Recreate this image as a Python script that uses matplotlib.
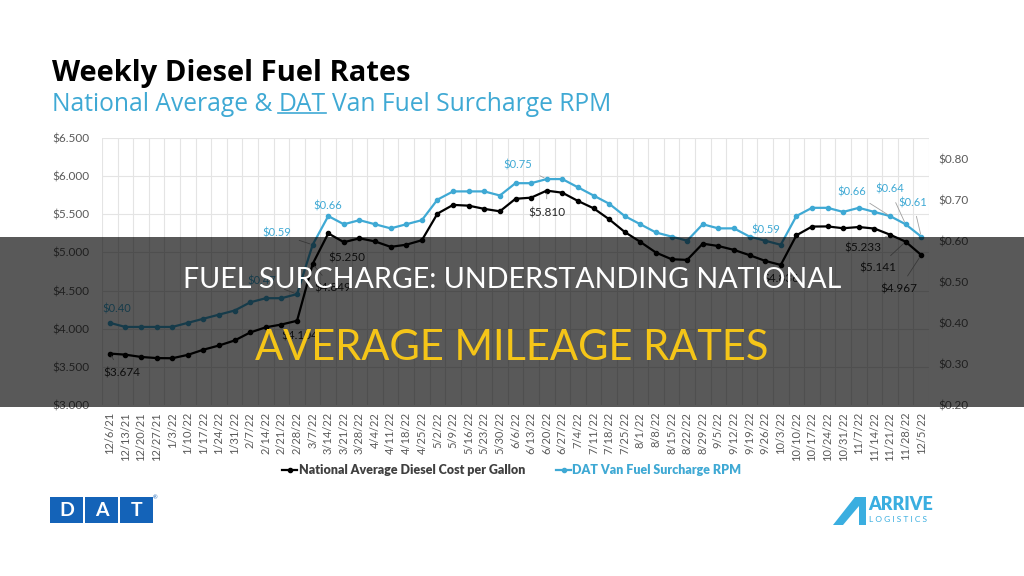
import numpy as np
import matplotlib.pyplot as plt
from matplotlib.patches import Rectangle, Polygon
from matplotlib.lines import Line2D

plt.rcParams['font.family'] = ['Lato', 'DejaVu Sans']

# Data
dates = ['12/6/21', '12/13/21', '12/20/21', '12/27/21', '1/3/22', '1/10/22', '1/17/22',
         '1/24/22', '1/31/22', '2/7/22', '2/14/22', '2/21/22', '2/28/22', '3/7/22',
         '3/14/22', '3/21/22', '3/28/22', '4/4/22', '4/11/22', '4/18/22', '4/25/22',
         '5/2/22', '5/9/22', '5/16/22', '5/23/22', '5/30/22', '6/6/22', '6/13/22',
         '6/20/22', '6/27/22', '7/4/22', '7/11/22', '7/18/22', '7/25/22', '8/1/22',
         '8/8/22', '8/15/22', '8/22/22', '8/29/22', '9/5/22', '9/12/22', '9/19/22',
         '9/26/22', '10/3/22', '10/10/22', '10/17/22', '10/24/22', '10/31/22', '11/7/22',
         '11/14/22', '11/21/22', '11/28/22', '12/5/22']

diesel = [3.674, 3.660, 3.630, 3.615, 3.613, 3.657, 3.725, 3.780, 3.846, 3.951, 4.019,
          4.055, 4.104, 4.849, 5.250, 5.134, 5.185, 5.144, 5.073, 5.101, 5.160, 5.509,
          5.623, 5.613, 5.571, 5.539, 5.703, 5.718, 5.810, 5.783, 5.675, 5.579, 5.435,
          5.268, 5.138, 4.998, 4.911, 4.902, 5.115, 5.084, 5.033, 4.964, 4.889, 4.836,
          5.224, 5.339, 5.341, 5.317, 5.333, 5.313, 5.233, 5.141, 4.967]

surcharge = [0.40, 0.39, 0.39, 0.39, 0.39, 0.40, 0.41, 0.42, 0.43, 0.45, 0.46, 0.46,
             0.47, 0.59, 0.66, 0.64, 0.65, 0.64, 0.63, 0.64, 0.65, 0.70, 0.72, 0.72,
             0.72, 0.71, 0.74, 0.74, 0.75, 0.75, 0.73, 0.71, 0.69, 0.66, 0.64, 0.62,
             0.61, 0.60, 0.64, 0.63, 0.63, 0.61, 0.60, 0.59, 0.66, 0.68, 0.68, 0.67,
             0.68, 0.67, 0.66, 0.64, 0.61]

# labelled points: index -> label offset in pixels
diesel_labels = {0: (12, -19), 12: (3, -15), 13: (20, -24), 14: (19, -25), 28: (0, -22),
                 43: (0, -14), 50: (-27, -13), 51: (-28, -26), 52: (-22, -34)}
diesel_leaders = [0, 13, 28, 50, 51, 52]
surcharge_labels = {0: (7, 14), 12: (-35, 13), 13: (-36, 12), 14: (0, 10), 28: (-29, 14),
                    43: (-15, 15), 50: (-38, 24), 51: (-16, 35), 52: (-8, 34)}
surcharge_leaders = [12, 13, 28, 50, 51, 52]

TEAL = '#3fa9d4'
GRID = '#e4e4e4'
TICK = '#595959'

W, H = 1024, 576


def fx(px):
    return px / W


def fy(py):
    return 1 - py / H


fig = plt.figure(figsize=(10.24, 5.76), dpi=100)
fig.patch.set_facecolor('white')

ax = fig.add_axes([fx(102), fy(405), (929 - 102) / W, (405 - 138) / H])
ax2 = ax.twinx()

x = np.arange(len(dates))
ax.plot(x, diesel, color='black', lw=1.6, marker='o', ms=3, label='National Average Diesel Cost per Gallon', zorder=3)
ax2.plot(x, surcharge, color=TEAL, lw=1.6, marker='o', ms=3, label='DAT Van Fuel Surcharge RPM', zorder=3)

ax.set_xlim(-0.5, len(dates) - 0.5)
ax.set_ylim(3.0, 6.5)
ax2.set_ylim(0.2, 0.85)

ax.set_yticks(np.arange(3.0, 6.51, 0.5))
ax.set_yticklabels([f'${v:.3f}' for v in np.arange(3.0, 6.51, 0.5)])
ax2.set_yticks(np.arange(0.2, 0.81, 0.1))
ax2.set_yticklabels([f'${v:.2f}' for v in np.arange(0.2, 0.81, 0.1)])

ax.set_xticks(x)
ax.set_xticklabels(dates, rotation=90)
ax.set_xticks(np.arange(-0.5, len(dates), 1), minor=True)

ax.tick_params(axis='x', which='both', length=0, pad=5, labelsize=8, labelcolor=TICK)
ax.tick_params(axis='y', length=0, pad=9, labelsize=8.5, labelcolor=TICK)
ax2.tick_params(axis='y', length=0, pad=7, labelsize=8.5, labelcolor=TICK)

ax.grid(True, which='minor', axis='x', color=GRID, lw=0.8)
ax.grid(True, which='major', axis='y', color=GRID, lw=0.8)
ax.set_axisbelow(True)
for a in (ax, ax2):
    for s in a.spines.values():
        s.set_visible(False)

# data labels
for i, off in diesel_labels.items():
    arrow = dict(arrowstyle='-', color='#a0a0a0', lw=0.6, shrinkA=4, shrinkB=2) if i in diesel_leaders else None
    ax.annotate(f'${diesel[i]:.3f}', (i, diesel[i]), xytext=off, textcoords='offset pixels',
                ha='center', va='center', fontsize=8.5, color='#262626', arrowprops=arrow, zorder=4)
for i, off in surcharge_labels.items():
    arrow = dict(arrowstyle='-', color='#a0a0a0', lw=0.6, shrinkA=4, shrinkB=2) if i in surcharge_leaders else None
    ax2.annotate(f'${surcharge[i]:.2f}', (i, surcharge[i]), xytext=off, textcoords='offset pixels',
                 ha='center', va='center', fontsize=8, color=TEAL, arrowprops=arrow, zorder=4)

# legend
h1, l1 = ax.get_legend_handles_labels()
h2, l2 = ax2.get_legend_handles_labels()
leg = fig.legend(h1 + h2, l1 + l2, loc='center', bbox_to_anchor=(fx(512), fy(470)), ncol=2,
                 frameon=False, handlelength=1.2, handletextpad=0.1, columnspacing=2.5,
                 prop={'size': 9, 'weight': 'heavy'})
leg.get_texts()[0].set_color('#404040')
leg.get_texts()[1].set_color(TEAL)

# titles
TFONT = ['Open Sans', 'DejaVu Sans']
fig.text(fx(52), fy(73), 'Weekly Diesel Fuel Rates', fontsize=21, fontweight='bold',
         family=TFONT, color='black', va='center', ha='left')
t1 = fig.text(fx(52), fy(117), 'National Average &', fontsize=17.7, family=TFONT, color=TEAL,
              va='bottom', ha='left')
t2 = fig.text(0, 0, 'DAT', fontsize=17.7, family=TFONT, color=TEAL, va='bottom', ha='left')
t3 = fig.text(0, 0, 'Van Fuel Surcharge RPM', fontsize=17.7, family=TFONT, color=TEAL,
              va='bottom', ha='left')
fig.canvas.draw()
r = fig.canvas.get_renderer()
b1 = t1.get_window_extent(r)
space = 6
t2.set_position((fx(b1.x1 + space), b1.y0 / H))
b2 = t2.get_window_extent(r)
t3.set_position((fx(b2.x1 + space), b1.y0 / H))
fig.add_artist(Line2D([b2.x0 / W, b2.x1 / W], [(b1.y0 + 4) / H] * 2, color=TEAL, lw=1.2))

# dark overlay band
fig.add_artist(Rectangle((0, fy(407)), 1, (407 - 237) / H, transform=fig.transFigure,
                         facecolor='black', alpha=0.65, edgecolor='none', zorder=10))
fig.text(0.5, fy(280), 'FUEL SURCHARGE: UNDERSTANDING NATIONAL', fontsize=20.6, color='white',
         ha='center', va='center', zorder=11)
fig.text(0.5, fy(348), 'AVERAGE MILEAGE RATES', fontsize=30, color='#f5c518',
         ha='center', va='center', zorder=11)

# DAT logo
for i, letter in enumerate('DAT'):
    x0 = 50 + i * 35
    fig.add_artist(Rectangle((fx(x0), fy(523)), 33 / W, 26 / H, transform=fig.transFigure,
                             facecolor='#1463b8', edgecolor='none'))
    fig.text(fx(x0 + 16.5), fy(510), letter, fontsize=14, fontweight='bold', color='white',
             ha='center', va='center')
fig.text(fx(155), fy(498), '®', fontsize=4, color='#1463b8', ha='center', va='center')

# Arrive Logistics logo
ARRIVE = '#3aaee0'
fig.add_artist(Polygon([(fx(833), fy(525)), (fx(855), fy(497)), (fx(866), fy(497)),
                        (fx(866), fy(525)), (fx(859), fy(525)), (fx(859), fy(506)),
                        (fx(843), fy(525))], closed=True, transform=fig.transFigure,
                       facecolor=ARRIVE, edgecolor='none'))
fig.text(fx(868), fy(505), 'ARRIVE', fontsize=13, fontweight='heavy', color=ARRIVE,
         ha='left', va='center')
fig.text(fx(869), fy(519), 'L O G I S T I C S', fontsize=6, color=ARRIVE, ha='left', va='center')

fig.savefig('out.png', dpi=100)
